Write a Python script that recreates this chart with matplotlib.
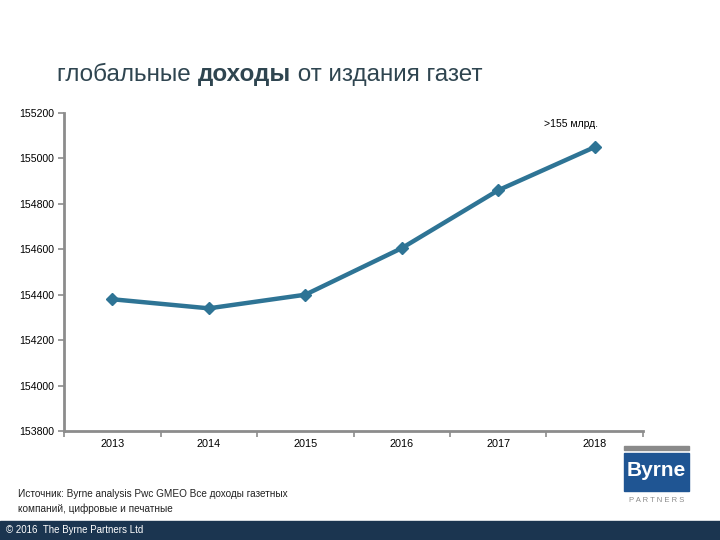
import matplotlib.pyplot as plt
import matplotlib.patches as patches
import numpy as np

plt.rcParams['font.family'] = ['Liberation Sans', 'DejaVu Sans']

years = ['2013', '2014', '2015', '2016', '2017', '2018']
revenue = [154380, 154340, 154400, 154605, 154860, 155050]
y_ticks = [153800, 154000, 154200, 154400, 154600, 154800, 155000, 155200]

line_col = '#2e7495'
axis_col = '#8c8c8c'
title_col = '#2f4550'

fig = plt.figure(figsize=(7.2, 5.4), dpi=100)
ax = fig.add_axes([0.089, 0.2019, 0.804, 0.5888])

x = np.arange(len(years))
ax.plot(x, revenue, color=line_col, lw=3.2, marker='D', ms=6.5,
        markerfacecolor=line_col, markeredgecolor=line_col, solid_joinstyle='miter')

ax.set_xlim(-0.5, len(years) - 0.5)
ax.set_ylim(153800, 155200)
ax.set_yticks(y_ticks)
ax.set_yticklabels([str(v) for v in y_ticks], fontsize=7.6)
ax.set_xticks(x)
ax.set_xticklabels(years, fontsize=7.8)
ax.tick_params(axis='x', length=0, pad=6)
ax.set_xticks(np.arange(-0.5, len(years)), minor=True)
ax.tick_params(axis='x', which='minor', length=4, width=1.2, color=axis_col, direction='out')
ax.tick_params(axis='y', length=4, width=1.2, color=axis_col, pad=3)

for s in ['top', 'right']:
    ax.spines[s].set_visible(False)
for s in ['left', 'bottom']:
    ax.spines[s].set_color(axis_col)
    ax.spines[s].set_linewidth(2)

ax.text(len(years) - 1.25, 155150, '>155 млрд.', fontsize=7.5, ha='center', va='center')

# title
ty = 1 - 75 / 540
t1 = fig.text(0.079, ty, 'глобальные ', fontsize=17.5, color=title_col, va='center')
fig.canvas.draw()
r = fig.canvas.get_renderer()
x1 = t1.get_window_extent(r).x1 / fig.bbox.width
t2 = fig.text(x1, ty, 'доходы', fontsize=17.5, color=title_col, va='center', weight='bold')
x2 = t2.get_window_extent(r).x1 / fig.bbox.width
fig.text(x2, ty, ' от издания газет', fontsize=17.5, color=title_col, va='center')

# source
fig.text(0.025, 1 - 501.5 / 540, 'Источник: Byrne analysis Pwc GMEO Все доходы газетных\nкомпаний, цифровые и печатные',
         fontsize=7.2, va='center', linespacing=1.5, color='#222222')

# footer bar
fig.patches.append(patches.Rectangle((0, 0), 1, 0.036, transform=fig.transFigure,
                                     color='#1b3550', zorder=0))
fig.text(0.008, 0.018, '© 2016  The Byrne Partners Ltd', fontsize=7, color='white', va='center')

# logo
fig.patches.append(patches.Rectangle((624 / 720, 1 - 450 / 540), 65 / 720, 4 / 540,
                                     transform=fig.transFigure, color='#8a8a8a'))
fig.patches.append(patches.Rectangle((624 / 720, 1 - 491 / 540), 65 / 720, 38 / 540,
                                     transform=fig.transFigure, color='#1f5593'))
fig.text(656.5 / 720, 1 - 470 / 540, 'Byrne', fontsize=15, color='white', weight='bold',
         ha='center', va='center', stretch='condensed')
fig.text(656.5 / 720, 1 - 500 / 540, 'P A R T N E R S', fontsize=5.5, color='#8a8a8a',
         ha='center', va='center')

fig.savefig('out.png', dpi=100)
